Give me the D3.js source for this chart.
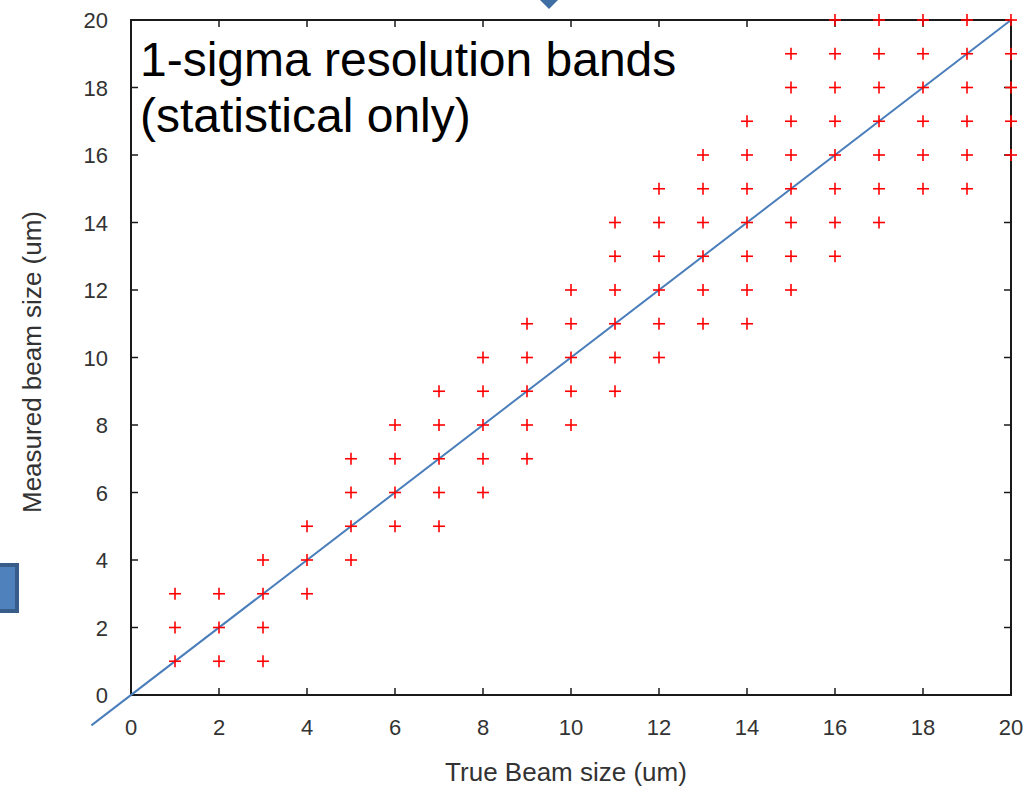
<!DOCTYPE html>
<html>
<head>
<meta charset="utf-8">
<script src="https://cdn.jsdelivr.net/npm/d3@7"></script>
<style>
html,body{margin:0;padding:0;background:#fff;}
svg{display:block;}
</style>
</head>
<body>
<svg id="chart" width="1036" height="788"></svg>
<script>
// ---- data ----
const trueSizes = [1,2,3,4,5,6,7,8,9,10,11,12,13,14,15,16,17,18,19,20];
const measuredSizes = [
  [1,2,3],
  [1,2,3],
  [1,2,3,4],
  [3,4,5],
  [4,5,6,7],
  [5,6,7,8],
  [5,6,7,8,9],
  [6,7,8,9,10],
  [7,8,9,10,11],
  [8,9,10,11,12],
  [9,10,11,12,13,14],
  [10,11,12,13,14,15],
  [11,12,13,14,15,16],
  [11,12,13,14,15,16,17],
  [12,13,14,15,16,17,18,19],
  [13,14,15,16,17,18,19,20],
  [14,15,16,17,18,19,20],
  [15,16,17,18,19,20],
  [15,16,17,18,19,20],
  [16,17,18,19,20]
];
const idealLineX = [-0.9, 20];
const xTicks = [0,2,4,6,8,10,12,14,16,18,20];
const yTicks = [0,2,4,6,8,10,12,14,16,18,20];
const titleLines = ["1-sigma resolution bands", "(statistical only)"];
const xLabel = "True Beam size (um)";
const yLabel = "Measured beam size (um)";

// ---- layout ----
const svg = d3.select("#chart");
const L = 131, R = 1011, T = 20, B = 695;
const x = d3.scaleLinear().domain([0,20]).range([L,R]);
const y = d3.scaleLinear().domain([0,20]).range([B,T]);
const font = "'Liberation Sans', Arial, sans-serif";

// slide decorations
svg.append("polygon")
  .attr("points", "540,0 558,0 549,9")
  .attr("fill", "#3f6ea5");
svg.append("rect")
  .attr("x", -5).attr("y", 565).attr("width", 22).attr("height", 46)
  .attr("fill", "#4f81bd").attr("stroke", "#385d8a").attr("stroke-width", 4);

// frame
svg.append("rect")
  .attr("x", L).attr("y", T).attr("width", R-L).attr("height", B-T)
  .attr("fill", "none").attr("stroke", "#1a1a1a").attr("stroke-width", 2);

const tl = 7;
const g = svg.append("g").attr("stroke", "#1a1a1a").attr("stroke-width", 1.5);
xTicks.forEach(t => {
  if (t === 0 || t === 20) return;
  g.append("line").attr("x1", x(t)).attr("x2", x(t)).attr("y1", B).attr("y2", B - tl);
  g.append("line").attr("x1", x(t)).attr("x2", x(t)).attr("y1", T).attr("y2", T + tl);
});
yTicks.forEach(t => {
  if (t === 0 || t === 20) return;
  g.append("line").attr("x1", L).attr("x2", L + tl).attr("y1", y(t)).attr("y2", y(t));
  g.append("line").attr("x1", R).attr("x2", R - tl).attr("y1", y(t)).attr("y2", y(t));
});

// tick labels
svg.append("g").selectAll("text").data(xTicks).join("text")
  .attr("x", d => x(d)).attr("y", 735)
  .attr("text-anchor", "middle")
  .attr("font-family", font).attr("font-size", 22).attr("fill", "#333")
  .text(d => d);
svg.append("g").selectAll("text").data(yTicks).join("text")
  .attr("x", 108).attr("y", d => y(d) + 8)
  .attr("text-anchor", "end")
  .attr("font-family", font).attr("font-size", 22).attr("fill", "#333")
  .text(d => d);

// axis titles
svg.append("text")
  .attr("x", 566).attr("y", 781)
  .attr("text-anchor", "middle")
  .attr("font-family", font).attr("font-size", 26).attr("fill", "#333")
  .text(xLabel);
svg.append("text")
  .attr("transform", "translate(41,362) rotate(-90)")
  .attr("text-anchor", "middle")
  .attr("font-family", font).attr("font-size", 26).attr("fill", "#333")
  .text(yLabel);

// ideal line
svg.append("line")
  .attr("x1", x(idealLineX[0])).attr("y1", y(idealLineX[0]))
  .attr("x2", x(idealLineX[1])).attr("y2", y(idealLineX[1]))
  .attr("stroke", "#4a7ebb").attr("stroke-width", 2);

// points
const pts = [];
trueSizes.forEach((t, i) => measuredSizes[i].forEach(m => pts.push([t, m])));
const s = 6;
const pg = svg.append("g").attr("stroke", "#ff0000").attr("stroke-width", 1.6);
pts.forEach(([a, b]) => {
  const cx = x(a), cy = y(b);
  pg.append("line").attr("x1", cx - s).attr("x2", cx + s).attr("y1", cy).attr("y2", cy);
  pg.append("line").attr("x1", cx).attr("x2", cx).attr("y1", cy - s).attr("y2", cy + s);
});

// title
const tt = svg.append("text")
  .attr("font-family", font).attr("font-size", 48).attr("fill", "#000");
titleLines.forEach((ln, i) => {
  tt.append("tspan").attr("x", 140).attr("y", 76 + i * 56).text(ln);
});
</script>
</body>
</html>
